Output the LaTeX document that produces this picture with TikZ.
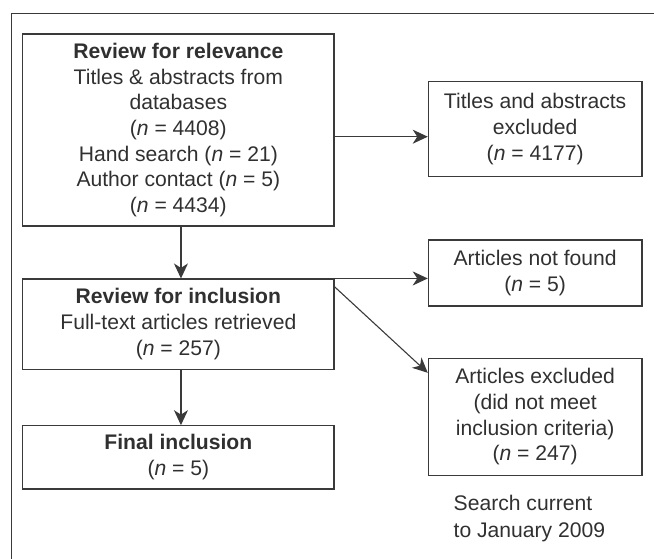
\documentclass[tikz,border=0pt]{standalone}
\usepackage{fontspec}
\setmainfont{Liberation Sans}
\usetikzlibrary{arrows.meta,calc}
\definecolor{ln}{HTML}{3A3A3A}
\definecolor{tx}{HTML}{303030}
\tikzset{
  box/.style={draw=ln, line width=1.1bp, rectangle, inner sep=0pt, align=center,
    text=tx, font=\fontsize{21.2}{25.8}\selectfont},
  arr/.style={draw=ln, line width=1.1bp, -{Stealth[length=15bp,width=14bp,inset=4.5bp]}},
  frame/.style={draw=ln, line width=1.4bp}
}
\newcommand{\nn}{\textit{n}}
\begin{document}
\begin{tikzpicture}[x=1bp,y=-1bp]
\useasboundingbox (0,0) rectangle (654,559);
\draw[frame] (11.7,559) -- (11.7,13.3) -- (654,13.3);

\node[box, minimum width=311.3bp, minimum height=192bp] (b1) at (178.35,130)
  {\textbf{Review for relevance}\\Titles \& abstracts from\\databases\\(\nn{} = 4408)\\Hand search (\nn{} = 21)\\Author contact (\nn{} = 5)\\(\nn{} = 4434)};
\node[box, minimum width=213.7bp, minimum height=95.4bp] (ex) at (535.15,129)
  {Titles and abstracts\\excluded\\(\nn{} = 4177)};
\node[box, minimum width=311.3bp, minimum height=90.3bp] (b2) at (178.35,324.15)
  {\textbf{Review for inclusion}\\Full-text articles retrieved\\(\nn{} = 257)};
\node[box, minimum width=213.7bp, minimum height=66bp] (nf) at (535.15,273)
  {Articles not found\\(\nn{} = 5)};
\node[box, minimum width=213.7bp, minimum height=116.7bp] (exc) at (535.15,416.7)
  {Articles excluded\\(did not meet\\inclusion criteria)\\(\nn{} = 247)};
\node[box, minimum width=311.3bp, minimum height=63.3bp] (fin) at (178.35,457.35)
  {\textbf{Final inclusion}\\(\nn{} = 5)};
\node[anchor=west, inner sep=0pt, align=left, text=tx, font=\fontsize{21.2}{26.7}\selectfont] (note) at (453.5,518.5)
  {Search current\\to January 2009};

\coordinate (a1) at (0,136.7);
\draw[arr] (b1.east |- a1) -- (ex.west |- a1);
\draw[arr] ([xshift=2.6bp]b1.south) -- ([xshift=2.6bp]b2.north);
\draw[arr] (b2.north east) -- (nf.west |- b2.north east);
\draw[arr] ([yshift=-8.3bp]b2.north east) -- ([yshift=-15bp]exc.north west);
\draw[arr] ([xshift=2.6bp]b2.south) -- ([xshift=2.6bp]fin.north);
\end{tikzpicture}
\end{document}
